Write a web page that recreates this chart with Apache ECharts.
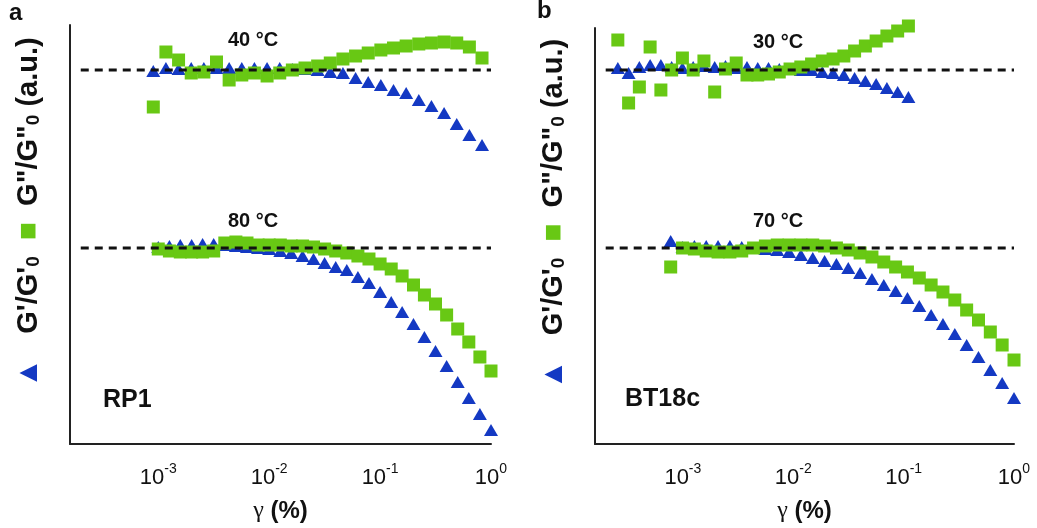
<!DOCTYPE html>
<html>
<head>
<meta charset="utf-8">
<title>Strain sweeps RP1 / BT18c</title>
<script src="https://cdn.jsdelivr.net/npm/echarts@6/dist/echarts.min.js"></script>
<style>
html,body{margin:0;padding:0;background:#fff;}
#chart{width:1037px;height:528px;}
</style>
</head>
<body>
<div id="chart"></div>
<script>
// strain (%) of each point
var strainA40 = [0.000902,0.001172,0.001524,0.001982,0.002576,0.00335,0.004355,0.005662,0.007362,0.009572,0.01245,0.01618,0.02104,0.02735,0.03556,0.04624,0.06012,0.07816,0.1016,0.1321,0.1718,0.2234,0.2904,0.3776,0.4909,0.6383,0.8299];
var strainA80 = [0.001,0.00126,0.00158,0.002,0.00251,0.00316,0.00398,0.00501,0.00631,0.00794,0.01,0.0126,0.0158,0.02,0.0251,0.0316,0.0398,0.0501,0.0631,0.0794,0.1,0.126,0.158,0.2,0.251,0.316,0.398,0.501,0.631,0.794,1];
var strainB30 = [0.0002576,0.0003225,0.0004036,0.0005052,0.0006324,0.0007916,0.0009908,0.00124,0.001552,0.001943,0.002432,0.003044,0.003811,0.00477,0.00597,0.007473,0.009354,0.01171,0.01466,0.01834,0.02296,0.02874,0.03597,0.04503,0.05636,0.07055,0.08831,0.1105];
var strainB70 = [0.000776,0.000994,0.001272,0.001628,0.002084,0.002668,0.003415,0.004371,0.005596,0.007163,0.00917,0.01174,0.01503,0.01924,0.02462,0.03152,0.04035,0.05165,0.06612,0.08464,0.1083,0.1387,0.1775,0.2272,0.2909,0.3724,0.4767,0.6102,0.7812,1];

// G'/G'0 (triangles) and G"/G"0 (squares), stacked in a.u.
var storageA40 = [3.73,3.76,3.75,3.76,3.76,3.76,3.76,3.76,3.76,3.76,3.76,3.75,3.75,3.74,3.72,3.71,3.66,3.62,3.59,3.54,3.51,3.44,3.38,3.31,3.20,3.09,2.99];
var lossA40 = [3.37,3.92,3.84,3.71,3.72,3.82,3.64,3.69,3.71,3.68,3.71,3.74,3.76,3.78,3.81,3.85,3.88,3.91,3.94,3.96,3.98,4.00,4.01,4.02,4.01,3.97,3.86];
var storageA80 = [1.97,1.98,1.99,1.99,2.00,2.00,1.99,1.98,1.97,1.96,1.95,1.93,1.91,1.88,1.85,1.81,1.77,1.74,1.67,1.61,1.52,1.42,1.32,1.20,1.07,0.93,0.78,0.62,0.46,0.30,0.14];
var lossA80 = [1.95,1.93,1.92,1.92,1.92,1.93,2.01,2.02,2.01,1.99,1.99,1.99,1.98,1.98,1.97,1.95,1.93,1.91,1.88,1.85,1.80,1.75,1.68,1.59,1.49,1.40,1.29,1.15,1.02,0.87,0.73];
var storageB30 = [3.76,3.71,3.77,3.79,3.79,3.77,3.76,3.77,3.78,3.77,3.78,3.76,3.77,3.76,3.76,3.75,3.75,3.74,3.74,3.72,3.71,3.69,3.66,3.63,3.60,3.56,3.52,3.47];
var lossB30 = [4.04,3.41,3.57,3.97,3.54,3.74,3.86,3.74,3.83,3.52,3.75,3.81,3.69,3.69,3.70,3.72,3.75,3.77,3.80,3.83,3.85,3.88,3.93,3.98,4.03,4.08,4.13,4.18];
var storageB70 = [2.03,1.97,1.98,1.98,1.98,1.98,1.97,1.96,1.95,1.94,1.92,1.89,1.86,1.83,1.80,1.76,1.71,1.65,1.59,1.53,1.46,1.38,1.29,1.20,1.10,0.99,0.87,0.74,0.61,0.46];
var lossB70 = [1.77,1.96,1.95,1.93,1.92,1.92,1.93,1.96,1.98,1.99,1.99,1.99,1.99,1.98,1.96,1.94,1.91,1.87,1.82,1.77,1.72,1.66,1.59,1.52,1.44,1.34,1.24,1.12,0.99,0.84];

// dashed reference levels (G/G0 = 1 of each sweep)
var refLevel = [3.74, 1.96];
var refStrain = [0.0002, 1];
var tickExp = [-3, -2, -1, 0];

var BLUE = '#1439C3';
var GREEN = '#68C814';
var FONT = '"Liberation Sans", Arial, sans-serif';

function pairs(xs, ys){
	var out = [];
	for(var i = 0; i < xs.length; i++){
		out.push([xs[i], ys[i]]);
	}
	return out;
}

function tickLabel(v){
	var l = Math.log10(v);
	var e = Math.round(l);
	if(Math.abs(l - e) > 1e-6 || tickExp.indexOf(e) < 0) return '';
	return '{b|10}{s|' + e + '}';
}

function xAxisFor(gridIndex){
	return {
		type: 'log',
		gridIndex: gridIndex,
		min: 0.00016,
		max: 1,
		name: '{g|γ}{n| (%)}',
		nameLocation: 'middle',
		nameGap: 55,
		nameTextStyle: {
			rich: {
				g: {fontSize: 24, fontFamily: '"Liberation Serif", serif', color: '#111'},
				n: {fontSize: 24, fontWeight: 'bold', fontFamily: FONT, color: '#111'}
			}
		},
		axisLine: {onZero: false, lineStyle: {color: '#222', width: 2}},
		axisTick: {show: false},
		minorTick: {show: false},
		splitLine: {show: false},
		axisLabel: {
			margin: 18,
			showMinLabel: false,
			formatter: tickLabel,
			rich: {
				b: {fontSize: 22, fontFamily: FONT, color: '#111'},
				s: {fontSize: 14, fontFamily: FONT, color: '#111', padding: [0, 0, 18, 0]}
			}
		}
	};
}

function yAxisFor(gridIndex, max){
	return {
		type: 'value',
		gridIndex: gridIndex,
		min: 0,
		max: max,
		name: '{tri|▲}{t|   G\'/G\'}{sub|0}{t|  }{sq|■}{t|  G"/G"}{sub|0}{t| (a.u.)}',
		nameLocation: 'middle',
		nameGap: 26,
		nameTextStyle: {
			padding: [0, 0, 0, 44],
			rich: {
				tri: {fontSize: 30, color: BLUE, fontFamily: FONT},
				sq: {fontSize: 30, color: GREEN, fontFamily: FONT},
				t: {fontSize: 29, fontWeight: 'bold', color: '#111', fontFamily: FONT},
				sub: {fontSize: 19, fontWeight: 'bold', color: '#111', fontFamily: FONT, padding: [10, 0, 0, 0]}
			}
		},
		axisLine: {show: true, onZero: false, lineStyle: {color: '#222', width: 2}},
		axisTick: {show: false},
		axisLabel: {show: false},
		splitLine: {show: false}
	};
}

function triSeries(gridIndex, xs, ys){
	return {
		type: 'scatter', xAxisIndex: gridIndex, yAxisIndex: gridIndex,
		symbol: 'triangle', symbolSize: [14, 12], clip: false,
		itemStyle: {color: BLUE, opacity: 1},
		data: pairs(xs, ys), z: 2
	};
}

function sqSeries(gridIndex, xs, ys){
	return {
		type: 'scatter', xAxisIndex: gridIndex, yAxisIndex: gridIndex,
		symbol: 'rect', symbolSize: 13, clip: false,
		itemStyle: {color: GREEN, opacity: 1},
		data: pairs(xs, ys), z: 3
	};
}

function refSeries(gridIndex, level){
	return {
		type: 'line', xAxisIndex: gridIndex, yAxisIndex: gridIndex,
		symbol: 'none', silent: true, z: 4,
		lineStyle: {color: '#111', width: 3, type: [8, 6]},
		data: pairs(refStrain, [level, level])
	};
}

function label(x, y, text, size, align){
	return {
		type: 'text', x: x, y: y, silent: true,
		style: {text: text, fill: '#111', font: 'bold ' + size + 'px ' + FONT, align: align || 'center', verticalAlign: 'middle'}
	};
}

var myChart = echarts.init(document.getElementById('chart'));
myChart.setOption({
	animation: false,
	backgroundColor: '#fff',
	grid: [
		{left: 70, right: 546, top: 25, bottom: 84},
		{left: 595, right: 23, top: 28, bottom: 84}
	],
	xAxis: [xAxisFor(0), xAxisFor(1)],
	yAxis: [yAxisFor(0, 4.19), yAxisFor(1, 4.16)],
	series: [
		triSeries(0, strainA40, storageA40),
		sqSeries(0, strainA40, lossA40),
		triSeries(0, strainA80, storageA80),
		sqSeries(0, strainA80, lossA80),
		refSeries(0, refLevel[0]),
		refSeries(0, refLevel[1]),
		triSeries(1, strainB30, storageB30),
		sqSeries(1, strainB30, lossB30),
		triSeries(1, strainB70, storageB70),
		sqSeries(1, strainB70, lossB70),
		refSeries(1, refLevel[0]),
		refSeries(1, refLevel[1])
	],
	graphic: [
		label(9, 13, 'a', 24, 'left'),
		label(537, 11, 'b', 24, 'left'),
		label(253, 40, '40 °C', 20),
		label(253, 221, '80 °C', 20),
		label(778, 42, '30 °C', 20),
		label(778, 221, '70 °C', 20),
		label(103, 400, 'RP1', 25, 'left'),
		label(625, 399, 'BT18c', 25, 'left')
	]
});
</script>
</body>
</html>
